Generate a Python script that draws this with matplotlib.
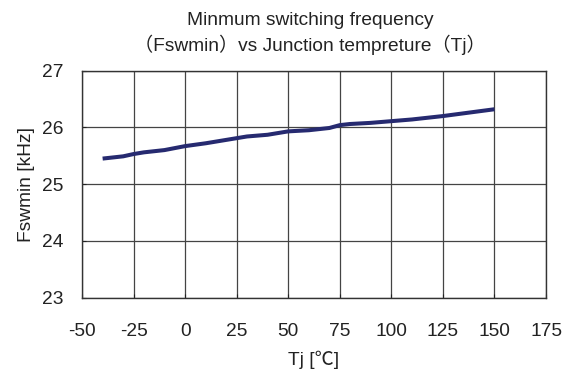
import matplotlib
matplotlib.use("Agg")
import matplotlib.pyplot as plt

temps = [-40, -30, -25, -20, -10, 0, 10, 20, 25, 30, 40, 50, 60, 70, 75, 80, 90, 100, 110, 125, 150]
fswmin = [25.45, 25.49, 25.53, 25.56, 25.60, 25.67, 25.72, 25.78, 25.81, 25.84, 25.87,
          25.93, 25.95, 25.99, 26.04, 26.06, 26.08, 26.11, 26.14, 26.20, 26.32]
xticks = [-50, -25, 0, 25, 50, 75, 100, 125, 150, 175]
yticks = [23, 24, 25, 26, 27]
title_line1 = 'Minmum switching frequency'
title_line2 = '（Fswmin）vs Junction tempreture（Tj）'

fam = ['Liberation Sans', 'Noto Sans CJK JP', 'DejaVu Sans']
plt.rcParams['font.family'] = fam
plt.rcParams['axes.unicode_minus'] = False

FS = 13.8
TXT = '#222222'
W, H = 565, 379

fig = plt.figure(figsize=(W / 100, H / 100), dpi=100)
ax = fig.add_axes([82 / W, 1 - 297.5 / H, (546 - 82) / W, (297.5 - 70.7) / H])
ax.plot(temps, fswmin, color='#262a70', linewidth=2.9, solid_capstyle='butt')
ax.set_xlim(-50, 175)
ax.set_ylim(23, 27)
ax.set_xticks(xticks)
ax.set_yticks(yticks)
ax.grid(True, color='#444444', linewidth=0.9)
ax.set_axisbelow(True)
ax.tick_params(direction='in', length=3, labelsize=FS, colors=TXT)
ax.tick_params(axis='x', pad=18.5)
ax.tick_params(axis='y', pad=13.5)
for s in ax.spines.values():
    s.set_color('#333333')
    s.set_linewidth(1.0)
ax.set_xlabel('Tj [℃]', fontsize=FS, color=TXT, labelpad=7.5)
ax.set_ylabel('Fswmin [kHz]', fontsize=FS, color=TXT, labelpad=5)

cx = 310
fig.text(cx / W, 1 - 25 / H, title_line1, fontsize=FS, color=TXT,
         ha='center', va='baseline')
fig.text(cx / W, 1 - 51 / H, title_line2, fontsize=FS, color=TXT,
         ha='center', va='baseline')

fig.savefig('out.png', dpi=100)
